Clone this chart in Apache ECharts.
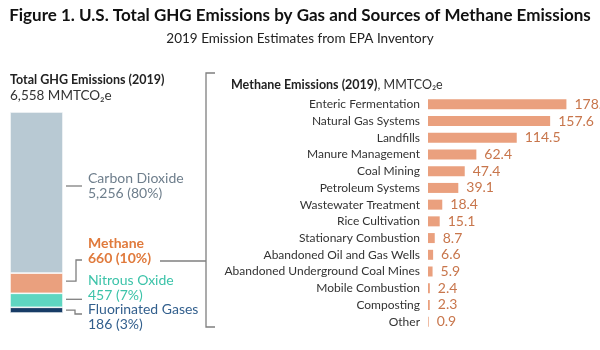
<!DOCTYPE html>
<html><head><meta charset="utf-8">
<script src="https://cdn.jsdelivr.net/npm/echarts@6/dist/echarts.min.js"></script>
<style>html,body{margin:0;padding:0;background:#fff}#c{width:600px;height:350px}</style>
</head><body><div id="c"></div>
<script>
const gasNames = ['Fluorinated Gases', 'Nitrous Oxide', 'Methane', 'Carbon Dioxide'];
const gasValues = [186, 457, 660, 5256];
const gasPct = ['3%', '7%', '10%', '80%'];
const gasColors = ['#173c66', '#5fd6c1', '#eaa07e', '#b8c9d3'];
const gasTextColors = ['#325f8d', '#3cc3a9', '#e07a3c', '#6e7e8c'];
const totalLabel = '6,558';

const methaneCategories = ['Enteric Fermentation', 'Natural Gas Systems', 'Landfills', 'Manure Management', 'Coal Mining', 'Petroleum Systems', 'Wastewater Treatment', 'Rice Cultivation', 'Stationary Combustion', 'Abandoned Oil and Gas Wells', 'Abandoned Underground Coal Mines', 'Mobile Combustion', 'Composting', 'Other'];
const methaneValues = [178.6, 157.6, 114.5, 62.4, 47.4, 39.1, 18.4, 15.1, 8.7, 6.6, 5.9, 2.4, 2.3, 0.9];

const FONT = 'Lato';
const total = gasValues.reduce((a, b) => a + b, 0);
const chart = echarts.init(document.getElementById('c'));

const stackSeries = gasValues.map((v, i) => ({
  type: 'bar', stack: 'gas', xAxisIndex: 0, yAxisIndex: 0,
  name: gasNames[i], data: [v], barWidth: '100%',
  itemStyle: { color: gasColors[i], borderColor: '#fff', borderWidth: 0.7 },
  silent: true
}));

chart.setOption({
  animation: false,
  textStyle: { fontFamily: FONT },
  grid: [
    { left: 10, top: 112, width: 53, height: 201 },
    { left: 428, top: 96, width: 155, height: 234 }
  ],
  xAxis: [
    { gridIndex: 0, type: 'category', data: ['2019'], show: false },
    { gridIndex: 1, type: 'value', min: 0, max: 200, show: false }
  ],
  yAxis: [
    { gridIndex: 0, type: 'value', min: 0, max: total, show: false },
    { gridIndex: 1, type: 'category', data: methaneCategories, inverse: true,
      axisLine: { show: false }, axisTick: { show: false },
      axisLabel: { interval: 0, color: '#333', fontSize: 12, margin: 8, fontFamily: FONT } }
  ],
  series: stackSeries.concat([{
    type: 'bar', xAxisIndex: 1, yAxisIndex: 1, data: methaneValues, barWidth: 10,
    itemStyle: { color: '#eaa07e' },
    label: { show: true, position: 'right', distance: 8, color: '#c8764c', fontSize: 14, fontFamily: FONT,
      formatter: p => p.value.toFixed(1) }
  }])
});

function yOf(v) { return chart.convertToPixel({ gridIndex: 0 }, [0, v])[1]; }
let cum = 0;
const centers = gasValues.map(v => { const c = yOf(cum + v / 2); cum += v; return c; });

const lineStyle = { stroke: '#7f7f7f', lineWidth: 1.3, fill: null };
const g = [];
function txt(x, y, text, opts) {
  const fs = (opts && opts.fontSize) || 14;
  g.push({ type: 'text', left: x, top: y - fs * 0.6, style: Object.assign({ text: text, fontFamily: FONT, fontSize: 14, fill: '#333' }, opts) });
}
g.push({ type: 'text', left: 'center', top: 7, style: { text: 'Figure 1. U.S. Total GHG Emissions by Gas and Sources of Methane Emissions', fontFamily: FONT, fontWeight: 'bold', fontSize: 17, fill: '#111' } });
g.push({ type: 'text', left: 'center', top: 32, style: { text: '2019 Emission Estimates from EPA Inventory', fontFamily: FONT, fontSize: 13.5, fill: '#222' } });
txt(10, 81, 'Total GHG Emissions (2019)', { fontWeight: 'bold', fill: '#222', fontSize: 12.5 });
txt(10, 97, totalLabel + ' MMTCO₂e', { fill: '#333', fontSize: 13.5 });
g.push({ type: 'text', left: 231, top: 78, style: { rich: { b: { fontWeight: 'bold', fontSize: 12.5, fontFamily: FONT, fill: '#222' }, n: { fontSize: 12.5, fontFamily: FONT, fill: '#333' } }, text: '{b|Methane Emissions (2019)}{n|, MMTCO₂e}' } });

const labelY = [311, 282, 245, 180];
gasNames.forEach((n, i) => {
  const bold = i === 2;
  txt(88, labelY[i], n, { fill: gasTextColors[i], fontWeight: bold ? 'bold' : 'normal' });
  txt(88, labelY[i] + 15, gasValues[i].toLocaleString('en-US') + ' (' + gasPct[i] + ')', { fill: gasTextColors[i], fontWeight: bold ? 'bold' : 'normal' });
});
const x0 = 66, x1 = 82;
g.push({ type: 'polyline', shape: { points: [[x0, 186], [x1, 186]] }, style: lineStyle });
g.push({ type: 'polyline', shape: { points: [[x0, centers[2] - 2], [76, centers[2] - 2], [76, 260], [x1, 260]] }, style: lineStyle });
g.push({ type: 'polyline', shape: { points: [[x0, centers[1] - 1], [x1, centers[1] - 1]] }, style: lineStyle });
g.push({ type: 'polyline', shape: { points: [[x0, centers[0]], [75, centers[0]], [75, 314], [x1, 314]] }, style: lineStyle });
g.push({ type: 'polyline', shape: { points: [[160, 261], [206, 261]] }, style: lineStyle });
g.push({ type: 'polyline', shape: { points: [[215, 73], [206, 73], [206, 327], [215, 327]] }, style: lineStyle });

chart.setOption({ graphic: g });
</script></body></html>
